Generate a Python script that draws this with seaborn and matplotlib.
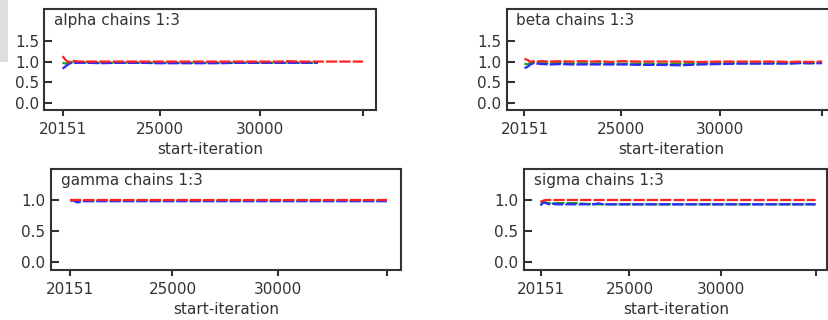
import matplotlib
matplotlib.use("Agg")
import matplotlib.pyplot as plt
import numpy as np
import pandas as pd
import seaborn as sns
from matplotlib.patches import Rectangle

# BGR convergence diagnostics, three chains (green = pooled, blue = within, red = ratio)
PARAMS = ["alpha", "beta", "gamma", "sigma"]
X_TICKS = [20151, 25000, 30000, 35150]
X_TICK_LABELS = ["20151", "25000", "30000", ""]

alpha_iter = [20151, 20300, 20450, 20600, 20800, 21000, 21500, 22000, 23000, 24000, 25000,
              26000, 27000, 28000, 29000, 30000, 31000, 31400, 32000, 32900, 34000, 35150]
alpha_green = [0.97, 0.95, 0.97, 0.98, 0.98, 0.98, 0.98, 0.97, 0.97, 0.97, 0.97,
               0.97, 0.97, 0.97, 0.97, 0.97, 0.97, 0.97, 0.97, 0.97, np.nan, np.nan]
alpha_blue = [0.83, 0.88, 0.94, 0.97, 0.97, 0.97, 0.97, 0.96, 0.97, 0.97, 0.96,
              0.96, 0.96, 0.96, 0.97, 0.97, 0.97, 0.97, 0.97, 0.97, np.nan, np.nan]
alpha_red = [1.13, 1.04, 0.98, 1.02, 1.01, 1.00, 1.00, 1.00, 1.00, 1.00, 1.00,
             1.00, 1.00, 1.00, 1.00, 1.00, 1.00, 1.01, 1.00, 1.00, 1.00, 1.00]

beta_iter = [20151, 20300, 20450, 20600, 20800, 21000, 21500, 22000, 22500, 23000, 23500,
             24000, 24500, 25000, 26000, 27000, 28000, 29000, 30000, 31000, 32000,
             33000, 33500, 34000, 34500, 35150]
beta_green = [0.95, 0.93, 0.97, 0.98, 0.97, 0.96, 0.96, 0.97, 0.95, 0.96, 0.95,
              0.96, 0.95, 0.95, 0.95, 0.94, 0.95, 0.95, 0.96, 0.96, 0.96,
              0.97, 0.96, 0.97, 0.96, 0.97]
beta_blue = [0.84, 0.87, 0.93, 0.96, 0.95, 0.94, 0.93, 0.94, 0.93, 0.93, 0.93,
             0.93, 0.93, 0.93, 0.92, 0.92, 0.91, 0.93, 0.94, 0.95, 0.95,
             0.95, 0.95, 0.96, 0.96, 0.96]
beta_red = [1.07, 1.04, 0.99, 1.01, 1.00, 1.01, 1.00, 1.01, 1.00, 1.01, 1.00,
            1.01, 0.99, 1.01, 1.00, 1.00, 1.00, 0.99, 1.00, 1.00, 1.00,
            1.00, 0.99, 1.00, 0.99, 1.00]

gamma_iter = [20151, 20300, 20500, 20800, 21500, 23000, 25000, 27000, 29000, 31000, 33000, 35150]
gamma_green = [1.00, 1.00, 0.99, 0.99, 0.99, 0.99, 0.99, 0.99, 0.99, 0.99, 0.99, 0.99]
gamma_blue = [0.99, 0.99, 0.96, 0.98, 0.98, 0.98, 0.98, 0.98, 0.98, 0.98, 0.98, 0.98]
gamma_red = [1.00, 1.00, 1.00, 1.00, 1.00, 1.00, 1.00, 1.00, 1.00, 1.00, 1.00, 1.00]

sigma_iter = [20151, 20300, 20450, 20600, 20800, 21000, 21500, 22000, 22500, 23000, 23300,
              23600, 24000, 25000, 27000, 29000, 31000, 33000, 35150]
sigma_green = [0.95, 0.97, 0.96, 0.95, 0.94, 0.95, 0.95, 0.95, 0.94, 0.93, 0.93,
               0.93, 0.93, 0.93, 0.93, 0.93, 0.93, 0.93, 0.93]
sigma_blue = [0.91, 0.96, 0.95, 0.93, 0.94, 0.93, 0.93, 0.93, 0.93, 0.93, 0.945,
              0.93, 0.93, 0.93, 0.93, 0.93, 0.93, 0.93, 0.93]
sigma_red = [0.97, 0.99, 1.00, 1.00, 1.00, 1.00, 1.00, 1.00, 1.00, 1.00, 1.00,
             1.00, 1.00, 1.00, 1.00, 1.00, 1.00, 1.00, 1.00]

DATA = {
    "alpha": (alpha_iter, alpha_green, alpha_blue, alpha_red),
    "beta": (beta_iter, beta_green, beta_blue, beta_red),
    "gamma": (gamma_iter, gamma_green, gamma_blue, gamma_red),
    "sigma": (sigma_iter, sigma_green, sigma_blue, sigma_red),
}

PALETTE = {"green": "#1aa01a", "blue": "#2b2bff", "red": "#ff2020"}
DASHES = {"green": (5, 1), "blue": (5, 1), "red": (5, 1)}
INK = "#333333"

sns.set_style("ticks")
plt.rcParams["font.family"] = ["DejaVu Sans"]

fig = plt.figure(figsize=(8.29, 3.2), dpi=100)
W, H = 829.0, 320.0

# axes boxes in pixels: left, right, top, bottom
boxes = {
    "alpha": (44.5, 376.0, 9.0, 110.0),
    "beta": (506.6, 835.0, 9.0, 110.0),
    "gamma": (51.0, 400.7, 169.0, 270.0),
    "sigma": (524.0, 827.5, 169.0, 270.0),
}

# light grey strip at the top-left corner
fig.patches.append(Rectangle((0, 1 - 62 / H), 8 / W, 62 / H, transform=fig.transFigure,
                             facecolor="#dedede", edgecolor="none", zorder=0))

for name in PARAMS:
    l, r, t, b = boxes[name]
    ax = fig.add_axes([l / W, 1 - b / H, (r - l) / W, (b - t) / H])
    iters, g, bl, rd = DATA[name]
    df = pd.concat([
        pd.DataFrame({"iteration": iters, "value": g, "series": "green"}),
        pd.DataFrame({"iteration": iters, "value": bl, "series": "blue"}),
        pd.DataFrame({"iteration": iters, "value": rd, "series": "red"}),
    ]).dropna()
    sns.lineplot(data=df, x="iteration", y="value", hue="series", style="series",
                 palette=PALETTE, dashes=DASHES, hue_order=["green", "blue", "red"],
                 estimator=None, sort=False, legend=False, lw=1.6, ax=ax)

    ax.set_xlim(19250, 35800)
    if name in ("alpha", "beta"):
        ax.set_ylim(-0.17, 2.27)
        ax.set_yticks([0.0, 0.5, 1.0, 1.5])
    else:
        ax.set_ylim(-0.13, 1.5)
        ax.set_yticks([0.0, 0.5, 1.0])
    ax.set_yticklabels([f"{v:.1f}" for v in ax.get_yticks()])
    ax.set_xticks(X_TICKS)
    ax.set_xticklabels(X_TICK_LABELS)

    ax.tick_params(axis="y", direction="in", length=5.5, width=1.5, color=INK,
                   labelsize=11, labelcolor=INK, pad=4)
    ax.tick_params(axis="x", direction="out", length=4.5, width=1.5, color=INK,
                   labelsize=11, labelcolor=INK, pad=4)
    for sp in ax.spines.values():
        sp.set_visible(True)
        sp.set_color(INK)
        sp.set_linewidth(1.5)

    ax.set_xlabel("start-iteration", fontsize=11, color=INK, labelpad=4)
    ax.set_ylabel("")
    ax.annotate(f"{name} chains 1:3", xy=(0, 1), xycoords="axes fraction",
                xytext=(7, -3), textcoords="offset points", ha="left", va="top",
                fontsize=11, color=INK)

fig.savefig("out.png", dpi=100)
